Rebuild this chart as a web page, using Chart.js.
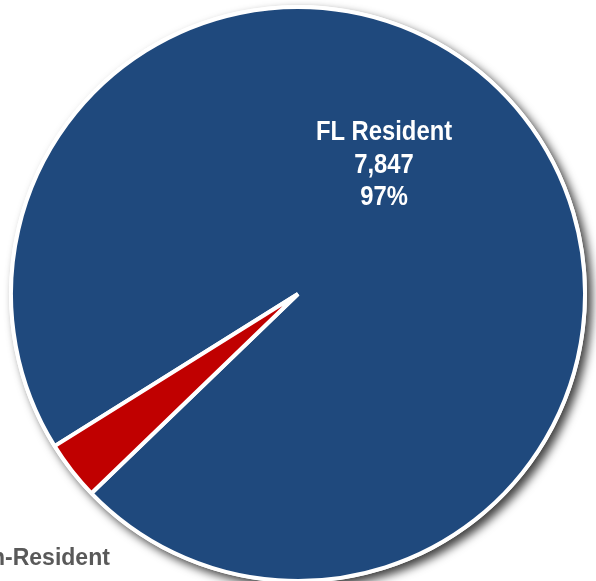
<!DOCTYPE html>
<html>
<head>
<meta charset="utf-8">
<script src="https://cdn.jsdelivr.net/npm/chart.js@4.4.0/dist/chart.umd.min.js"></script>
<style>
  html, body { margin: 0; padding: 0; background: #ffffff; overflow: hidden; }
  #wrap { position: relative; width: 596px; height: 583px; }
</style>
</head>
<body>
<div id="wrap"><canvas id="c"></canvas></div>
<script>
// ---- data ----
const categories = ["FL Resident", "Non-Resident"];
const counts = [7847, 270];
const percentLabels = ["97%", "3%"];
const countLabels = ["7,847", "270"];

// ---- styles ----
const sliceColors = ["#1F497D", "#C00000"];
const labelColors = ["#FFFFFF", "#595959"];

// label placement: [angle in degrees (canvas), distance as fraction of radius]
const labelPlacement = [[-56.3, 0.540], [134.8, 1.30]];

const shadowPlugin = {
  id: 'pieShadow',
  beforeDatasetsDraw(chart) {
    const arc = chart.getDatasetMeta(0).data[0];
    if (!arc) return;
    const ctx = chart.ctx;
    ctx.save();
    ctx.shadowColor = 'rgba(0,0,0,0.75)';
    ctx.shadowBlur = 10;
    ctx.shadowOffsetX = 5;
    ctx.shadowOffsetY = 5;
    ctx.fillStyle = '#ffffff';
    ctx.beginPath();
    ctx.arc(arc.x, arc.y, arc.outerRadius + 2, 0, Math.PI * 2);
    ctx.fill();
    ctx.restore();
  }
};

const labelPlugin = {
  id: 'sliceLabels',
  afterDatasetsDraw(chart) {
    const meta = chart.getDatasetMeta(0);
    const ctx = chart.ctx;
    meta.data.forEach((arc, i) => {
      const [angDeg, frac] = labelPlacement[i];
      const a = angDeg * Math.PI / 180;
      const cx = arc.x + Math.cos(a) * arc.outerRadius * frac;
      const cy = arc.y + Math.sin(a) * arc.outerRadius * frac;
      ctx.save();
      ctx.textAlign = 'center';
      ctx.textBaseline = 'middle';
      ctx.fillStyle = labelColors[i];
      if (i === 0) {
        ctx.font = "bold 28px 'Liberation Sans', Arial, sans-serif";
        ctx.translate(cx, cy);
        ctx.scale(0.85, 1);
        const lines = [categories[i], countLabels[i], percentLabels[i]];
        const lh = 32.5;
        lines.forEach((t, k) => ctx.fillText(t, 0, (k - 1) * lh));
      } else {
        ctx.font = "bold 23px 'Liberation Sans', Arial, sans-serif";
        ctx.fillText(categories[i], cx, cy);
      }
      ctx.restore();
    });
  }
};

new Chart(document.getElementById('c'), {
  type: 'pie',
  data: {
    labels: categories,
    datasets: [{
      data: counts,
      backgroundColor: sliceColors,
      borderColor: '#ffffff',
      borderWidth: 4,
      hoverOffset: 0
    }]
  },
  options: {
    responsive: true,
    maintainAspectRatio: false,
    animation: false,
    rotation: 238,
    layout: { padding: { top: 5, bottom: 0, left: 0, right: 0 } },
    plugins: {
      legend: { display: false },
      tooltip: { enabled: false }
    }
  },
  plugins: [shadowPlugin, labelPlugin]
});
</script>
</body>
</html>
